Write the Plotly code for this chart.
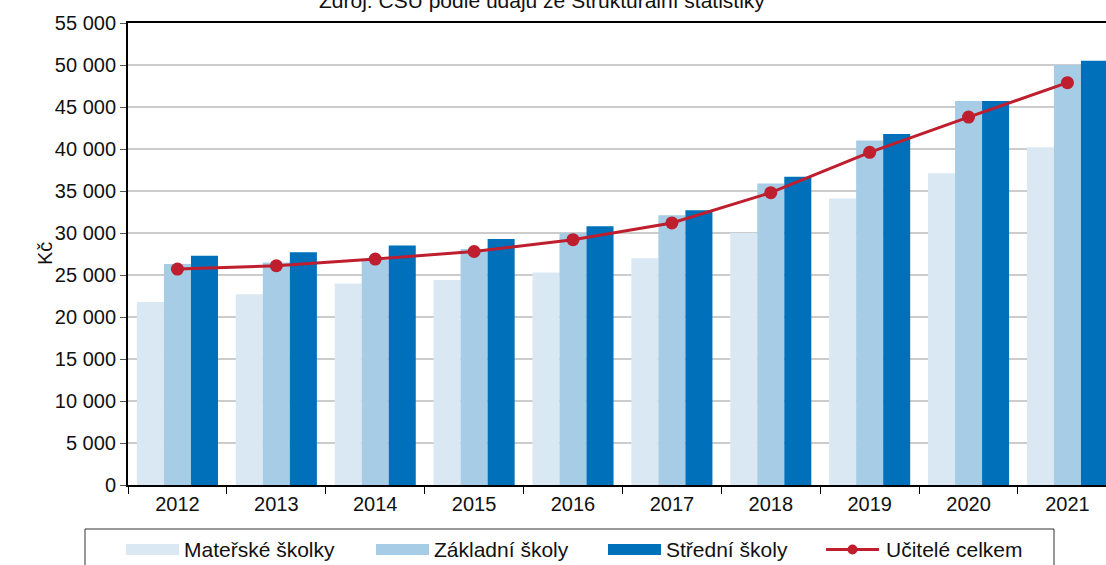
import plotly.graph_objects as go

years = ["2012", "2013", "2014", "2015", "2016", "2017", "2018", "2019", "2020", "2021"]
materske = [21800, 22700, 24000, 24400, 25300, 27000, 30000, 34100, 37100, 40200]
zakladni = [26300, 26500, 26800, 28100, 30000, 32100, 35900, 41000, 45700, 50000]
stredni = [27300, 27700, 28500, 29300, 30800, 32700, 36700, 41800, 45700, 50500]
celkem = [25700, 26100, 26900, 27800, 29200, 31200, 34800, 39600, 43800, 47900]
y_ticks = list(range(0, 55001, 5000))

series_names = ["Mateřské školky", "Základní školy", "Střední školy", "Učitelé celkem"]
colors = ["#dae8f3", "#a6cce6", "#0070bb", "#be1e2d"]

FONT = "Liberation Sans, Arial, sans-serif"
W, H = 1106, 565
L, R, T, B = 128, 0, 23, 80
PW, PH = W - L - R, H - T - B


def px(x):
    return (x - L) / PW


def py(y):
    return (H - B - y) / PH


fig = go.Figure()
for name, vals, col in zip(series_names[:3], [materske, zakladni, stredni], colors[:3]):
    fig.add_bar(x=years, y=vals, name=name, marker=dict(color=col, line=dict(width=0)))
fig.add_scatter(x=years, y=celkem, name=series_names[3], mode="lines+markers",
                line=dict(color=colors[3], width=3), marker=dict(color=colors[3], size=13))

shapes = []
annotations = []
# legend box (partly outside the picture, as in the reference)
shapes.append(dict(type="rect", xref="paper", yref="paper", x0=px(85), x1=px(1054), y0=py(575), y1=py(529),
                   line=dict(color="#333", width=1), fillcolor="white", layer="above"))
sw_x = [126, 376, 608, 826]
tx_x = [182, 432, 664, 884]
ly = 549.5
for i in range(3):
    shapes.append(dict(type="rect", xref="paper", yref="paper", x0=px(sw_x[i]), x1=px(sw_x[i] + 53),
                       y0=py(ly + 5.5), y1=py(ly - 5.5), line=dict(width=0), fillcolor=colors[i]))
shapes.append(dict(type="line", xref="paper", yref="paper", x0=px(sw_x[3]), x1=px(sw_x[3] + 53),
                   y0=py(ly), y1=py(ly), line=dict(color=colors[3], width=3)))
shapes.append(dict(type="circle", xref="paper", yref="paper", x0=px(sw_x[3] + 21.5), x1=px(sw_x[3] + 31.5),
                   y0=py(ly + 5), y1=py(ly - 5), line=dict(width=0), fillcolor=colors[3]))
for i in range(4):
    annotations.append(dict(text=series_names[i], xref="paper", yref="paper", x=px(tx_x[i]), y=py(ly),
                            xanchor="left", yanchor="middle", showarrow=False,
                            font=dict(size=21, family=FONT, color="#111")))

annotations.append(dict(text="Zdroj: ČSÚ podle údajů ze Strukturální statistiky",
                        xref="paper", yref="paper", x=px(542), y=py(0),
                        xanchor="center", yanchor="middle", showarrow=False,
                        font=dict(size=21, family=FONT, color="#111")))
annotations.append(dict(text="Kč", xref="paper", yref="paper", x=px(45), y=py(254),
                        xanchor="center", yanchor="middle", showarrow=False, textangle=-90,
                        font=dict(size=20, family=FONT, color="#111")))

fig.update_layout(
    width=W, height=H,
    margin=dict(l=L, r=R, t=T, b=B, autoexpand=False),
    paper_bgcolor="white", plot_bgcolor="white",
    font=dict(family=FONT, size=20, color="#111"),
    separators=", ",
    barmode="group", bargap=0.18, bargroupgap=0,
    showlegend=False,
    shapes=shapes,
    annotations=annotations,
)
fig.update_xaxes(type="category", range=[-0.5, 9.39], showline=True, linecolor="black", linewidth=2,
                 mirror=True, ticks="outside", tickson="boundaries", ticklen=7, tickcolor="black",
                 showgrid=False, automargin=False, tickfont=dict(size=20))
fig.update_yaxes(range=[0, 55000], tickvals=y_ticks, tickformat=",d", showline=True, linecolor="black",
                 linewidth=2, ticks="outside", ticklen=6, tickcolor="#555", showgrid=True,
                 gridcolor="#cccccc", gridwidth=1.5, zeroline=False, automargin=False,
                 tickfont=dict(size=20))

fig.write_html("out.html", config={"displayModeBar": False},
               post_script="document.body.style.margin='0';document.body.style.overflow='hidden';")
